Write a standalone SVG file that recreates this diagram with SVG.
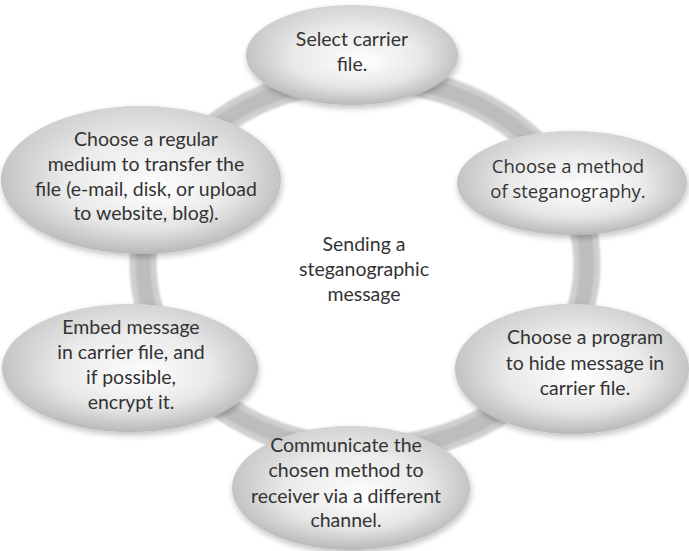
<svg xmlns="http://www.w3.org/2000/svg" width="689" height="551" viewBox="0 0 689 551">
<defs>
  <radialGradient id="eg" cx="0.5" cy="0.5" r="0.5" fx="0.55" fy="0.58">
    <stop offset="0" stop-color="#ffffff"/>
    <stop offset="0.6" stop-color="#e9e9e9"/>
    <stop offset="1" stop-color="#c2c2c2"/>
  </radialGradient>
  <linearGradient id="gl" x1="0" y1="0" x2="0" y2="1">
    <stop offset="0" stop-color="#ffffff" stop-opacity="0.3"/>
    <stop offset="0.5" stop-color="#ffffff" stop-opacity="0"/>
    <stop offset="1" stop-color="#000000" stop-opacity="0.05"/>
  </linearGradient>
  <filter id="sh" x="-10%" y="-10%" width="120%" height="130%">
    <feGaussianBlur in="SourceAlpha" stdDeviation="3"/>
    <feOffset dx="1" dy="3" result="b"/>
    <feComponentTransfer><feFuncA type="linear" slope="0.25"/></feComponentTransfer>
    <feMerge><feMergeNode/><feMergeNode in="SourceGraphic"/></feMerge>
  </filter>
  <filter id="soft" x="-5%" y="-5%" width="110%" height="110%">
    <feGaussianBlur stdDeviation="1.2"/>
  </filter>
</defs>
<style>
  .node ellipse.b { fill: url(#eg); filter: url(#sh); }
  .node ellipse.g { fill: url(#gl); }
  text { font-family: Lato, "Liberation Sans", sans-serif; font-size: 19.5px; fill: #333333; text-anchor: middle; }
  .m { font-family: "Open Sans", "Noto Sans", sans-serif; font-size: 18.5px; }
</style>
<rect width="689" height="551" fill="#ffffff"/>
<g id="connectors" filter="url(#soft)">
  <ellipse cx="365" cy="264" rx="222" ry="186" fill="none" stroke="#cfcfcf" stroke-width="27"/>
  <ellipse cx="365" cy="264" rx="222" ry="186" fill="none" stroke="#bdbdbd" stroke-width="15"/>
</g>
<g id="n1" class="node">
  <ellipse class="b" cx="352" cy="55" rx="106" ry="50"/>
  <ellipse class="g" cx="352" cy="55" rx="106" ry="50"/>
  <text x="352" y="46">Select carrier</text>
  <text x="352" y="71">file.</text>
</g>
<g id="n2" class="node">
  <ellipse class="b" cx="572" cy="183" rx="115" ry="52"/>
  <ellipse class="g" cx="572" cy="183" rx="115" ry="52"/>
  <text class="m" x="568" y="173">Choose a method</text>
  <text class="m" x="568" y="198">of steganography.</text>
</g>
<g id="n3" class="node">
  <ellipse class="b" cx="572" cy="369" rx="117" ry="65"/>
  <ellipse class="g" cx="572" cy="369" rx="117" ry="65"/>
  <text x="585" y="344">Choose a program</text>
  <text x="585" y="370">to hide message in</text>
  <text x="585" y="395">carrier file.</text>
</g>
<g id="n4" class="node">
  <ellipse class="b" cx="351" cy="488" rx="119" ry="62"/>
  <ellipse class="g" cx="351" cy="488" rx="119" ry="62"/>
  <text x="346" y="452">Communicate the</text>
  <text x="346" y="477">chosen method to</text>
  <text x="346" y="503">receiver via a different</text>
  <text x="346" y="527">channel.</text>
</g>
<g id="n5" class="node">
  <ellipse class="b" cx="130" cy="368" rx="128" ry="64"/>
  <ellipse class="g" cx="130" cy="368" rx="128" ry="64"/>
  <text x="131" y="334">Embed message</text>
  <text x="131" y="359">in carrier file, and</text>
  <text x="131" y="384">if possible,</text>
  <text x="131" y="409">encrypt it.</text>
</g>
<g id="n6" class="node">
  <ellipse class="b" cx="141" cy="180" rx="140" ry="74"/>
  <ellipse class="g" cx="141" cy="180" rx="140" ry="74"/>
  <text x="146" y="146">Choose a regular</text>
  <text x="146" y="171">medium to transfer the</text>
  <text x="146" y="196">file (e-mail, disk, or upload</text>
  <text x="146" y="220">to website, blog).</text>
</g>
<g id="center">
  <text x="364" y="251">Sending a</text>
  <text x="364" y="276">steganographic</text>
  <text x="364" y="301">message</text>
</g>
</svg>
